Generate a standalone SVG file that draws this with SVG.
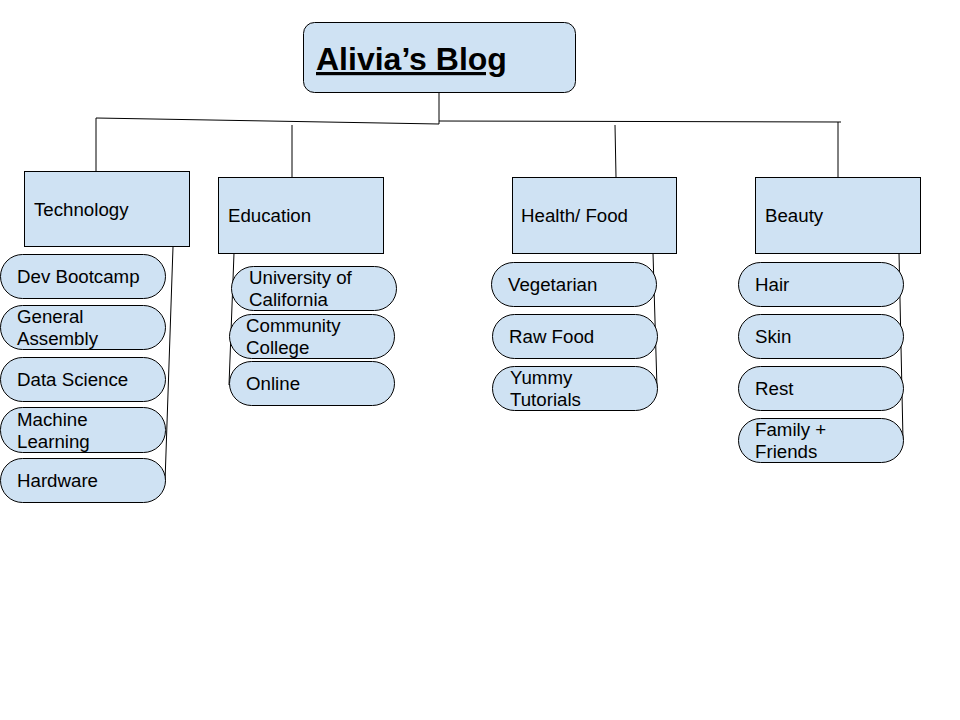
<svg xmlns="http://www.w3.org/2000/svg" width="960" height="720" viewBox="0 0 960 720">
<style>
.b{fill:#cfe2f3;stroke:#000;stroke-width:1}
.t{font-family:"Liberation Sans",Arial,sans-serif;font-size:18.7px;fill:#000}
.c{fill:none;stroke:#000;stroke-width:1}
</style>
<rect width="960" height="720" fill="#fff"/>
<g id="connectors">
<line class="c" x1="439" y1="92" x2="439" y2="124"/>
<line class="c" x1="96" y1="118" x2="439" y2="124"/>
<line class="c" x1="439" y1="121" x2="841" y2="122"/>
<line class="c" x1="96" y1="118" x2="96" y2="171"/>
<line class="c" x1="292" y1="125" x2="292" y2="177"/>
<line class="c" x1="615" y1="125" x2="616" y2="177"/>
<line class="c" x1="838" y1="122" x2="838" y2="177"/>
<line class="c" x1="173" y1="247" x2="165" y2="482"/>
<line class="c" x1="234" y1="253" x2="229" y2="385"/>
<line class="c" x1="653" y1="253" x2="657" y2="388"/>
<line class="c" x1="899" y1="253" x2="903" y2="440"/>
</g>
<g id="title">
<rect class="b" x="303.5" y="22.5" width="272" height="70" rx="11"/>
<text class="t" x="316" y="70" style="font-size:32px;font-weight:bold;text-decoration:underline">Alivia’s Blog</text>
</g>
<g id="technology">
<rect class="b" x="24.5" y="171.5" width="165" height="75"/>
<text class="t" x="34" y="216">Technology</text>
</g>
<g id="education">
<rect class="b" x="218.5" y="177.5" width="165" height="76"/>
<text class="t" x="228" y="222">Education</text>
</g>
<g id="health-food">
<rect class="b" x="512.5" y="177.5" width="164" height="76"/>
<text class="t" x="521" y="222">Health/ Food</text>
</g>
<g id="beauty">
<rect class="b" x="755.5" y="177.5" width="165" height="76"/>
<text class="t" x="765" y="222">Beauty</text>
</g>
<g id="dev-bootcamp">
<rect class="b" x="0.5" y="254.5" width="165" height="44" rx="22"/>
<text class="t" x="17" y="283">Dev Bootcamp</text>
</g>
<g id="general-assembly">
<rect class="b" x="0.5" y="305.5" width="165" height="44" rx="22"/>
<text class="t" x="17" y="323">General</text>
<text class="t" x="17" y="345">Assembly</text>
</g>
<g id="data-science">
<rect class="b" x="0.5" y="357.5" width="165" height="44" rx="22"/>
<text class="t" x="17" y="386">Data Science</text>
</g>
<g id="machine-learning">
<rect class="b" x="0.5" y="407.5" width="165" height="45" rx="22"/>
<text class="t" x="17" y="426">Machine</text>
<text class="t" x="17" y="448">Learning</text>
</g>
<g id="hardware">
<rect class="b" x="0.5" y="458.5" width="165" height="44" rx="22"/>
<text class="t" x="17" y="487">Hardware</text>
</g>
<g id="university-of-california">
<rect class="b" x="231.5" y="266.5" width="165" height="44" rx="22"/>
<text class="t" x="249" y="284">University of</text>
<text class="t" x="249" y="306">California</text>
</g>
<g id="community-college">
<rect class="b" x="229.5" y="314.5" width="165" height="44" rx="22"/>
<text class="t" x="246" y="332">Community</text>
<text class="t" x="246" y="354">College</text>
</g>
<g id="online">
<rect class="b" x="229.5" y="361.5" width="165" height="44" rx="22"/>
<text class="t" x="246" y="390">Online</text>
</g>
<g id="vegetarian">
<rect class="b" x="491.5" y="262.5" width="165" height="44" rx="22"/>
<text class="t" x="508" y="291">Vegetarian</text>
</g>
<g id="raw-food">
<rect class="b" x="492.5" y="314.5" width="165" height="44" rx="22"/>
<text class="t" x="509" y="343">Raw Food</text>
</g>
<g id="yummy-tutorials">
<rect class="b" x="492.5" y="366.5" width="165" height="44" rx="22"/>
<text class="t" x="510" y="384">Yummy</text>
<text class="t" x="510" y="406">Tutorials</text>
</g>
<g id="hair">
<rect class="b" x="738.5" y="262.5" width="165" height="44" rx="22"/>
<text class="t" x="755" y="291">Hair</text>
</g>
<g id="skin">
<rect class="b" x="738.5" y="314.5" width="165" height="44" rx="22"/>
<text class="t" x="755" y="343">Skin</text>
</g>
<g id="rest">
<rect class="b" x="738.5" y="366.5" width="165" height="44" rx="22"/>
<text class="t" x="755" y="395">Rest</text>
</g>
<g id="family-friends">
<rect class="b" x="738.5" y="418.5" width="165" height="44" rx="22"/>
<text class="t" x="755" y="436">Family +</text>
<text class="t" x="755" y="458">Friends</text>
</g>
</svg>
